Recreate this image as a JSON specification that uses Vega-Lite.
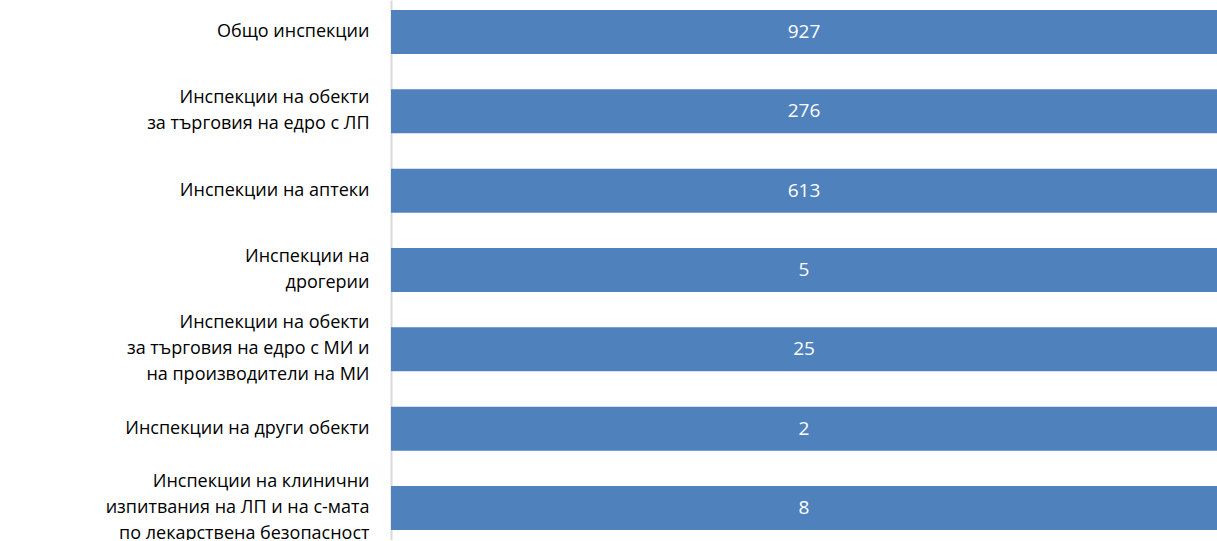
{
  "$schema": "https://vega.github.io/schema/vega-lite/v6.json",
  "width": 826,
  "height": 540,
  "autosize": {"type": "none"},
  "padding": {"left": 391, "top": 0, "right": 0, "bottom": 0},
  "background": "white",
  "config": {"view": {"stroke": null}, "font": "Open Sans"},
  "data": {
    "values": [
      {"label": "Общо инспекции", "value": 927},
      {"label": "Инспекции на обекти|за търговия на едро с ЛП", "value": 276},
      {"label": "Инспекции на аптеки", "value": 613},
      {"label": "Инспекции на|дрогерии", "value": 5},
      {"label": "Инспекции на обекти|за търговия на едро с МИ и|на производители на МИ", "value": 25},
      {"label": "Инспекции на други обекти", "value": 2},
      {"label": "Инспекции на клинични|изпитвания на ЛП и на с-мата|по лекарствена безопасност", "value": 8}
    ]
  },
  "encoding": {
    "y": {
      "field": "label",
      "type": "nominal",
      "sort": null,
      "scale": {"paddingInner": 0.445, "paddingOuter": 0.126},
      "axis": {
        "title": null,
        "ticks": false,
        "domainColor": "#d9d9d9",
        "domainWidth": 2,
        "labelPadding": 22,
        "labelFont": "Open Sans",
        "labelFontSize": 18,
        "labelColor": "#000000",
        "labelLineHeight": 26,
        "labelLimit": 400,
        "labelAlign": "right",
        "labelBaseline": "middle",
        "labelExpr": "split(datum.value, '|')",
        "labelOffset": {
          "condition": [
            {"test": "length(split(datum.value, '|')) == 3", "value": -26},
            {"test": "length(split(datum.value, '|')) == 2", "value": -13}
          ],
          "value": 0
        }
      }
    }
  },
  "layer": [
    {
      "mark": {"type": "bar", "color": "#4f81bd"},
      "encoding": {
        "x": {
          "field": "value",
          "type": "quantitative",
          "stack": "normalize",
          "scale": {"domain": [0, 1], "nice": false},
          "axis": null
        }
      }
    },
    {
      "mark": {"type": "text", "color": "white", "font": "Open Sans", "fontSize": 19, "align": "center", "baseline": "middle"},
      "encoding": {
        "x": {"datum": 0.5, "type": "quantitative"},
        "text": {"field": "value", "type": "quantitative"}
      }
    }
  ]
}
